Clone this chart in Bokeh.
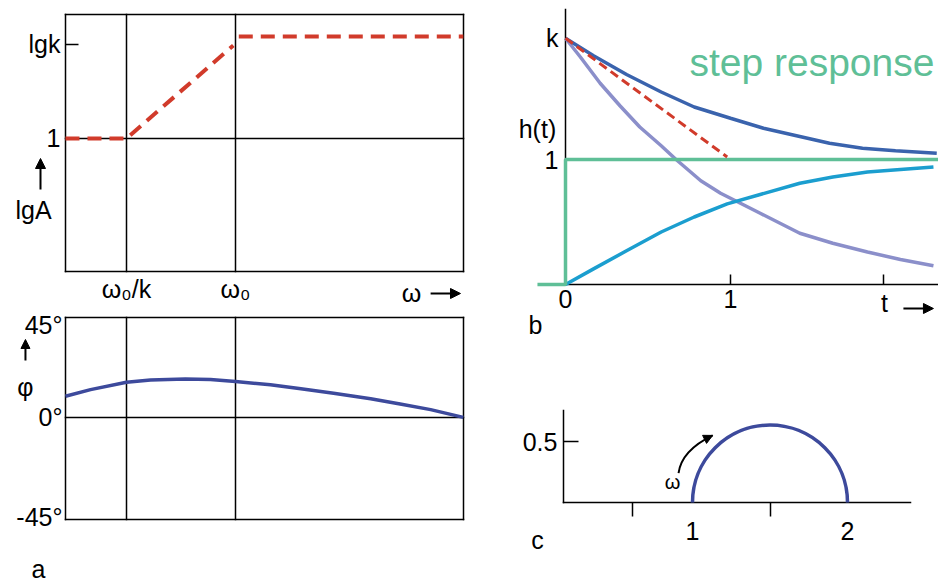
from bokeh.plotting import figure
from bokeh.layouts import row, column
from bokeh.models import FixedTicker, Label, Arrow, NormalHead, LinearAxis
from bokeh.embed import file_html
from bokeh.resources import INLINE

# ---------------- data ----------------
# panel a (Bode plot), x = lg(omega); omega0/k at -1, omega0 at 0
bode_ticks = [-1, 0]
bode_tick_labels = ["ω₀/k", "ω₀"]
amp_ticks = [0, 1]
amp_tick_labels = ["1", "lgk"]
asym_x = [-1.56, -1.0, -0.02]
asym_y = [0.0, 0.0, 0.99]
asym_hi_x = [0.03, 2.09]
asym_hi_y = [1.085, 1.085]
phase_x = [-1.56, -1.33, -1.0, -0.78, -0.46, -0.23, 0.0, 0.32, 0.6, 0.9, 1.24, 1.51, 1.79, 2.09]
phase_y = [9.5, 12.5, 15.8, 16.8, 17.3, 17.1, 16.2, 14.7, 12.9, 10.9, 8.4, 6.0, 3.5, 0.0]
phase_ticks = [-45, 0, 45]
phase_tick_labels = ["-45°", "0°", "45°"]
bode_box_x = (-1.56, 2.092)
amp_box_y = (-1.415, 1.319)
phase_box_y = (-46, 45)

# panel b (step response)
step_t = [-0.17, 0.0, 0.0, 2.3]
step_h = [0.0, 0.0, 1.0, 1.0]
upper_t = [0, 0.17, 0.37, 0.58, 0.78, 1.0, 1.2, 1.4, 1.6, 1.8, 2.0, 2.25]
upper_h = [1.97, 1.83, 1.68, 1.54, 1.42, 1.33, 1.25, 1.19, 1.13, 1.09, 1.07, 1.05]
decay_t = [0, 0.09, 0.21, 0.33, 0.45, 0.58, 0.67, 0.82, 0.94, 1.06, 1.18, 1.42, 1.62, 1.83, 2.03, 2.23]
decay_h = [1.97, 1.82, 1.61, 1.43, 1.26, 1.11, 1.0, 0.83, 0.73, 0.65, 0.57, 0.41, 0.33, 0.26, 0.20, 0.15]
rise_t = [0, 0.17, 0.37, 0.58, 0.78, 0.98, 1.18, 1.42, 1.62, 1.83, 2.03, 2.23]
rise_h = [0, 0.125, 0.27, 0.42, 0.54, 0.645, 0.72, 0.81, 0.86, 0.90, 0.92, 0.94]
tangent_t = [0.0, 0.98]
tangent_h = [1.97, 1.02]
time_ticks = [0, 1, 1.93]
time_tick_labels = ["0", "1", ""]
h_ticks = [1, 1.97]
h_tick_labels = ["1", "k"]
time_axis_bounds = (0, 2.2606)
h_axis_bounds = (0, 2.2)

# panel c (Nyquist)
nyq_center_x = [1.5]
nyq_center_y = [0.0]
nyq_radius = [0.5]
re_ticks = [1, 2]
re_tick_labels = ["1", "2"]
re_minor_ticks = [0.61, 1.5]
im_ticks = [0.5]
im_tick_labels = ["0.5"]
re_axis_bounds = (0.1677, 2.406)
im_axis_bounds = (0, 0.754)
omega_arrow_x = [0.91, 0.929, 1.13]
omega_arrow_y = [0.24, 0.426, 0.55]

# ---------------- style ----------------
FONT = "Liberation Sans"
RED = "#d13b2b"
INDIGO = "#3d4a9c"
DARKBLUE = "#3a63ad"
PURPLE = "#8b8fca"
CYAN = "#1b9ecf"
GREEN = "#5fbf97"
LW = 1.5
FS = "25px"


def make_fig(w, h, xr, yr):
    p = figure(width=w, height=h, x_range=xr, y_range=yr, toolbar_location=None,
               output_backend="svg", min_border=0, min_border_left=0, min_border_right=0,
               min_border_top=0, min_border_bottom=0)
    p.background_fill_color = "white"
    p.border_fill_color = "white"
    p.outline_line_color = None
    p.grid.grid_line_color = None
    return p


def style(ax, loc, bounds, ticks=(), labels=(), tick_in=0, minor=(), minor_out=0, standoff=5):
    ax.fixed_location = loc
    ax.bounds = bounds
    ax.level = "underlay"
    ax.ticker = FixedTicker(ticks=list(ticks), minor_ticks=list(minor))
    ax.major_label_overrides = {t: s for t, s in zip(ticks, labels)}
    ax.major_label_text_font = FONT
    ax.major_label_text_font_size = FS
    ax.major_label_text_color = "black"
    ax.major_label_standoff = standoff
    ax.axis_line_color = "black"
    ax.axis_line_width = LW
    ax.axis_line_cap = "square"
    ax.major_tick_in = tick_in
    ax.major_tick_out = 0
    ax.major_tick_line_color = "black"
    ax.major_tick_line_width = LW
    ax.minor_tick_in = 0
    ax.minor_tick_out = minor_out
    ax.minor_tick_line_color = "black" if minor else None
    ax.minor_tick_line_width = LW


def add_axis(p, side, loc, bounds, **kw):
    ax = LinearAxis()
    style(ax, loc, bounds, **kw)
    p.add_layout(ax, side)


def txt(p, x, y, s, size=25, color="black", align="center", baseline="middle"):
    p.add_layout(Label(x=x, y=y, text=s, text_font_size=f"{size}px", text_color=color,
                       text_align=align, text_baseline=baseline, text_font=FONT))


def arrow(p, x0, y0, x1, y1, size=10, width=2):
    p.add_layout(Arrow(x_start=x0, y_start=y0, x_end=x1, y_end=y1, line_width=width,
                       line_color="black",
                       end=NormalHead(size=size, fill_color="black", line_color="black")))


# ---------------- panel a, amplitude ----------------
p1 = make_fig(488, 310, (-2.156, 2.321), (-1.830, 1.468))
style(p1.yaxis[0], bode_box_x[0], amp_box_y, amp_ticks, amp_tick_labels, tick_in=13, standoff=5)
style(p1.xaxis[0], amp_box_y[0], bode_box_x, bode_ticks, bode_tick_labels, standoff=4)
add_axis(p1, "right", bode_box_x[1], amp_box_y)
add_axis(p1, "above", amp_box_y[1], bode_box_x)
for xv in bode_ticks:
    add_axis(p1, "right", xv, amp_box_y)
add_axis(p1, "above", 0, bode_box_x)
p1.line(asym_x, asym_y, line_color=RED, line_width=4, line_dash="14 8")
p1.line(asym_hi_x, asym_hi_y, line_color=RED, line_width=4, line_dash="14 8")
txt(p1, -1.853, -0.766, "lgA")
arrow(p1, -1.789, -0.543, -1.789, -0.213)
txt(p1, 1.615, -1.649, "ω")
arrow(p1, 1.79, -1.649, 2.064, -1.649)

# ---------------- panel a, phase ----------------
p2 = make_fig(488, 273, (-2.156, 2.321), (-74.83, 48.16))
style(p2.yaxis[0], bode_box_x[0], phase_box_y, phase_ticks, phase_tick_labels, standoff=3)
style(p2.xaxis[0], phase_box_y[0], bode_box_x)
add_axis(p2, "right", bode_box_x[1], phase_box_y)
add_axis(p2, "above", phase_box_y[1], bode_box_x)
for xv in bode_ticks:
    add_axis(p2, "right", xv, phase_box_y)
add_axis(p2, "above", 0, bode_box_x)
p2.line(phase_x, phase_y, line_color=INDIGO, line_width=3.5)
arrow(p2, -1.927, 25.6, -1.927, 35.1, size=9)
txt(p2, -1.927, 13.9, "φ")
txt(p2, -1.807, -68.5, "a")

# ---------------- panel b, step response ----------------
p3 = make_fig(450, 340, (-0.4667, 2.2606), (-0.448, 2.272))
style(p3.xaxis[0], 0, time_axis_bounds, time_ticks, time_tick_labels, tick_in=10, standoff=5)
style(p3.yaxis[0], 0, h_axis_bounds, h_ticks, h_tick_labels, standoff=7)
p3.line(decay_t, decay_h, line_color=PURPLE, line_width=3.5)
p3.line(upper_t, upper_h, line_color=DARKBLUE, line_width=3.5)
p3.line(rise_t, rise_h, line_color=CYAN, line_width=3.5)
p3.line(step_t, step_h, line_color=GREEN, line_width=3.5)
p3.line(tangent_t, tangent_h, line_color=RED, line_width=3, line_dash="9 5")
txt(p3, -0.17, 1.248, "h(t)")
txt(p3, 2.236, 1.776, "step response", size=39, color=GREEN, align="right")
txt(p3, 1.933, -0.144, "t")
arrow(p3, 2.048, -0.192, 2.23, -0.192)
txt(p3, -0.182, -0.32, "b")

# ---------------- panel c, Nyquist ----------------
p4 = make_fig(450, 243, (-0.316, 2.587), (-0.664, 1.328))
style(p4.xaxis[0], 0, re_axis_bounds, re_ticks, re_tick_labels, minor=re_minor_ticks,
      minor_out=14, standoff=5)
style(p4.yaxis[0], re_axis_bounds[0], im_axis_bounds, im_ticks, im_tick_labels, tick_in=15, standoff=6)
p4.arc(x=nyq_center_x, y=nyq_center_y, radius=nyq_radius, start_angle=0, end_angle=3.14159265,
       direction="anticlock", line_color=INDIGO, line_width=3.5)
p4.quadratic(x0=[omega_arrow_x[0]], y0=[omega_arrow_y[0]], cx=[omega_arrow_x[1]], cy=[omega_arrow_y[1]],
             x1=[omega_arrow_x[2]], y1=[omega_arrow_y[2]], line_color="black", line_width=2)
arrow(p4, 1.09, 0.525, omega_arrow_x[2], omega_arrow_y[2], size=9)
txt(p4, 0.871, 0.164, "ω", size=20)
txt(p4, 0.0, -0.311, "c")

layout = row(column(p1, p2), column(p3, p4))
open("out.html", "w").write(file_html(layout, INLINE))
